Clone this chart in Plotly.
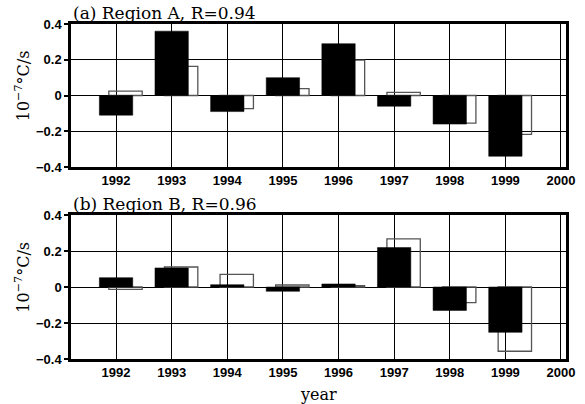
import plotly.graph_objects as go

years = [1992, 1993, 1994, 1995, 1996, 1997, 1998, 1999]
x_ticks = [1992, 1993, 1994, 1995, 1996, 1997, 1998, 1999, 2000]
y_ticks = [-0.4, -0.2, 0, 0.2, 0.4]
y_tick_labels = ["\u22120.4", "\u22120.2", "0", "0.2", "0.4"]

# Panel (a) Region A
region_a_solid = [-0.11, 0.36, -0.09, 0.10, 0.29, -0.06, -0.16, -0.34]
region_a_open = [0.024, 0.163, -0.073, 0.039, 0.198, 0.017, -0.155, -0.217]
# Panel (b) Region B
region_b_solid = [0.052, 0.106, 0.013, -0.024, 0.017, 0.219, -0.13, -0.252]
region_b_open = [-0.013, 0.111, 0.070, 0.011, 0.007, 0.267, -0.087, -0.357]

title_a = "(a) Region A, R=0.94"
title_b = "(b) Region B, R=0.96"
y_title = "10<sup>\u22127</sup>\u00b0C/s"
x_title = "year"

W, H = 585, 404
ML, MR, MT, MB = 71, 10, 24, 45
plot_h = H - MT - MB
dom_a = [(359 - 167) / plot_h, 1.0]
dom_b = [0.0, (359 - 215) / plot_h]

fig = go.Figure()

def add_panel(solid, open_, xa, ya):
    fig.add_trace(go.Bar(
        x=years, y=open_, width=0.6, offset=-0.13,
        marker=dict(color="rgba(0,0,0,0)", line=dict(color="#555555", width=1.3)),
        xaxis=xa, yaxis=ya, showlegend=False, hoverinfo="skip",
    ))
    fig.add_trace(go.Bar(
        x=years, y=solid, width=0.6, offset=-0.3,
        marker=dict(color="black", line=dict(color="black", width=0.5)),
        xaxis=xa, yaxis=ya, showlegend=False, hoverinfo="skip",
    ))

add_panel(region_a_solid, region_a_open, "x", "y")
add_panel(region_b_solid, region_b_open, "x2", "y2")

tick_font = dict(family="Liberation Sans", size=13, color="black", weight="bold")
xaxis_common = dict(
    range=[1991.19, 2000.09], tickvals=x_ticks, ticktext=[str(v) for v in x_ticks],
    showgrid=True, gridcolor="black", gridwidth=1,
    showline=True, linecolor="black", linewidth=2.5, mirror=True,
    ticks="", tickfont=tick_font, zeroline=False, domain=[0, 1],
)
yaxis_common = dict(
    range=[-0.4, 0.4], tickvals=y_ticks, ticktext=y_tick_labels,
    showgrid=True, gridcolor="black", gridwidth=1,
    zeroline=True, zerolinecolor="black", zerolinewidth=1,
    showline=True, linecolor="black", linewidth=2.5, mirror=True,
    ticks="outside", ticklen=4, tickwidth=1.5, tickcolor="black",
    tickfont=tick_font,
)

fig.update_layout(
    width=W, height=H,
    margin=dict(l=ML, r=MR, t=MT, b=MB),
    paper_bgcolor="white", plot_bgcolor="white",
    barmode="overlay",
    xaxis=dict(**xaxis_common, anchor="y"),
    yaxis=dict(**yaxis_common, domain=dom_a, anchor="x"),
    xaxis2=dict(**xaxis_common, anchor="y2"),
    yaxis2=dict(**yaxis_common, domain=dom_b, anchor="x2"),
)

title_font = dict(family="DejaVu Serif", size=17, color="black")
label_font = dict(family="DejaVu Serif", size=16, color="black")
fig.add_annotation(text=title_a, xref="x domain", yref="y domain", x=0, y=1,
                   xanchor="left", yanchor="bottom", showarrow=False, yshift=-1,
                   font=title_font)
fig.add_annotation(text=title_b, xref="x2 domain", yref="y2 domain", x=0, y=1,
                   xanchor="left", yanchor="bottom", showarrow=False, yshift=-1,
                   font=title_font)
for yref in ("y domain", "y2 domain"):
    fig.add_annotation(text=y_title, xref="paper", yref=yref, x=-ML / (W - ML - MR),
                       y=0.57, xanchor="left", yanchor="middle", xshift=9,
                       textangle=-90, showarrow=False, font=label_font)
fig.add_annotation(text=x_title, xref="x2 domain", yref="paper", x=0.5, y=0,
                   xanchor="center", yanchor="top", yshift=-24, showarrow=False,
                   font=label_font)

fig.write_html("out.html")
